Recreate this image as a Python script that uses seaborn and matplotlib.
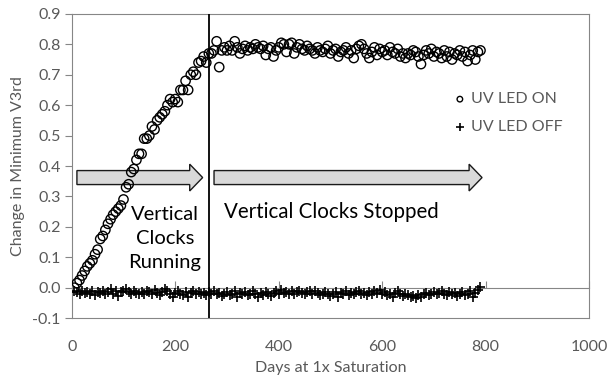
"""UV LED on/off: change in minimum V3rd vs days at 1x saturation."""

import matplotlib

matplotlib.use("Agg")
import matplotlib.pyplot as plt
import matplotlib.patches as mpatches
import numpy as np
import pandas as pd
import seaborn as sns

# sampling days (every 5 days)
DAYS = [
    5, 10, 15, 20, 25, 30, 35, 40, 45, 50,
    55, 60, 65, 70, 75, 80, 85, 90, 95, 100,
    105, 110, 115, 120, 125, 130, 135, 140, 145, 150,
    155, 160, 165, 170, 175, 180, 185, 190, 195, 200,
    205, 210, 215, 220, 225, 230, 235, 240, 245, 250,
    255, 260, 265, 270, 275, 280, 285, 290, 295, 300,
    305, 310, 315, 320, 325, 330, 335, 340, 345, 350,
    355, 360, 365, 370, 375, 380, 385, 390, 395, 400,
    405, 410, 415, 420, 425, 430, 435, 440, 445, 450,
    455, 460, 465, 470, 475, 480, 485, 490, 495, 500,
    505, 510, 515, 520, 525, 530, 535, 540, 545, 550,
    555, 560, 565, 570, 575, 580, 585, 590, 595, 600,
    605, 610, 615, 620, 625, 630, 635, 640, 645, 650,
    655, 660, 665, 670, 675, 680, 685, 690, 695, 700,
    705, 710, 715, 720, 725, 730, 735, 740, 745, 750,
    755, 760, 765, 770, 775, 780, 785, 790,
]

UV_ON = [
    0.00, 0.015, 0.025, 0.04, 0.055, 0.07, 0.08, 0.09, 0.11, 0.125,
    0.16, 0.17, 0.19, 0.21, 0.225, 0.24, 0.25, 0.26, 0.27, 0.29,
    0.33, 0.34, 0.38, 0.39, 0.42, 0.44, 0.44, 0.49, 0.49, 0.50,
    0.53, 0.52, 0.55, 0.56, 0.57, 0.58, 0.60, 0.62, 0.61, 0.62,
    0.61, 0.65, 0.65, 0.68, 0.65, 0.70, 0.71, 0.70, 0.74, 0.745,
    0.76, 0.74, 0.77, 0.77, 0.78, 0.81, 0.725, 0.78, 0.79, 0.78,
    0.795, 0.78, 0.81, 0.79, 0.77, 0.785, 0.795, 0.78, 0.79, 0.785,
    0.80, 0.79, 0.785, 0.795, 0.765, 0.785, 0.79, 0.76, 0.78, 0.79,
    0.805, 0.80, 0.775, 0.80, 0.805, 0.77, 0.79, 0.80, 0.785, 0.78,
    0.795, 0.785, 0.78, 0.77, 0.79, 0.78, 0.775, 0.785, 0.795, 0.77,
    0.78, 0.785, 0.76, 0.775, 0.78, 0.79, 0.77, 0.78, 0.755, 0.785,
    0.795, 0.80, 0.785, 0.77, 0.755, 0.775, 0.79, 0.765, 0.785, 0.775,
    0.78, 0.765, 0.79, 0.775, 0.77, 0.785, 0.76, 0.77, 0.755, 0.77,
    0.765, 0.78, 0.775, 0.76, 0.735, 0.765, 0.78, 0.77, 0.785, 0.76,
    0.775, 0.77, 0.755, 0.78, 0.76, 0.775, 0.75, 0.77, 0.765, 0.78,
    0.76, 0.775, 0.745, 0.765, 0.78, 0.75, 0.775, 0.78,
]

UV_OFF = [
    -0.01, -0.015, -0.02, -0.012, -0.018, -0.015, -0.02, -0.01, -0.025, -0.015,
    -0.018, -0.01, -0.022, -0.015, -0.005, -0.02, -0.012, -0.028, -0.015, -0.01,
    -0.005, -0.015, -0.02, -0.012, -0.018, -0.022, -0.015, -0.02, -0.01, -0.015,
    -0.02, -0.008, -0.018, -0.025, -0.015, -0.005, -0.012, -0.02, -0.03, -0.018,
    -0.012, -0.02, -0.025, -0.015, -0.032, -0.018, -0.012, -0.02, -0.015, -0.022,
    -0.018, -0.025, -0.015, -0.02, -0.012, -0.022, -0.018, -0.028, -0.02, -0.015,
    -0.025, -0.02, -0.012, -0.03, -0.018, -0.022, -0.015, -0.025, -0.02, -0.012,
    -0.022, -0.03, -0.018, -0.025, -0.015, -0.02, -0.028, -0.018, -0.012, -0.02,
    -0.008, -0.018, -0.015, -0.022, -0.012, -0.02, -0.015, -0.01, -0.018, -0.022,
    -0.015, -0.012, -0.02, -0.01, -0.018, -0.025, -0.02, -0.015, -0.022, -0.028,
    -0.02, -0.015, -0.03, -0.018, -0.022, -0.012, -0.025, -0.018, -0.02, -0.015,
    -0.01, -0.022, -0.018, -0.025, -0.015, -0.02, -0.012, -0.018, -0.008, -0.022,
    -0.015, -0.025, -0.02, -0.03, -0.018, -0.012, -0.022, -0.028, -0.02, -0.025,
    -0.032, -0.028, -0.035, -0.025, -0.03, -0.022, -0.018, -0.025, -0.02, -0.015,
    -0.022, -0.018, -0.012, -0.02, -0.025, -0.015, -0.022, -0.018, -0.028, -0.02,
    -0.015, -0.025, -0.02, -0.012, -0.03, -0.018, -0.008, 0.002,
]

X_TICKS = [0, 200, 400, 600, 800, 1000]
Y_TICKS = [-0.1, 0.0, 0.1, 0.2, 0.3, 0.4, 0.5, 0.6, 0.7, 0.8, 0.9]
CLOCK_STOP_DAY = 265

GRAY = "#868686"
TEXT_GRAY = "#595959"


def main() -> None:
    sns.set_theme(style="white")
    plt.rcParams["font.family"] = ["Lato", "DejaVu Sans"]

    df = pd.DataFrame({"day": DAYS, "on": UV_ON, "off": UV_OFF})

    fig = plt.figure(figsize=(6.08, 3.76), dpi=100)
    ax = fig.add_axes([0.118, 0.154, 0.851, 0.809])

    # block arrows (behind the data)
    for x0, x1 in [(10, 253), (275, 793)]:
        arr = mpatches.FancyArrow(
            x0, 0.362, x1 - x0, 0,
            width=0.046, head_width=0.088, head_length=25,
            length_includes_head=True,
            facecolor="#d9d9d9", edgecolor="#1a1a1a", linewidth=1.0, zorder=1,
        )
        ax.add_patch(arr)

    sns.scatterplot(
        data=df, x="day", y="off", marker="+", s=55, color="black",
        linewidth=1.2, ax=ax, zorder=3, label="UV LED OFF",
    )
    sns.scatterplot(
        data=df, x="day", y="on", marker="o", s=45, facecolor="none",
        edgecolor="black", linewidth=1.0, ax=ax, zorder=4, label="UV LED ON",
    )

    ax.axvline(CLOCK_STOP_DAY, color="black", linewidth=1.3, zorder=5)

    ax.text(180, 0.162, "Vertical\nClocks\nRunning", ha="center", va="center",
            fontsize=14.5, color="black", linespacing=1.5, zorder=6)
    ax.text(294, 0.25, "Vertical Clocks Stopped", ha="left", va="center",
            fontsize=14.8, color="black", zorder=6)

    ax.set_xlim(0, 1000)
    ax.set_ylim(-0.1, 0.9)
    ax.set_xticks(X_TICKS)
    ax.set_xticklabels([str(v) for v in X_TICKS])
    ax.set_yticks(Y_TICKS)
    ax.set_yticklabels([f"{v:.1f}" for v in Y_TICKS])
    ax.tick_params(axis="x", length=0, pad=16, labelsize=11.5, labelcolor=TEXT_GRAY)
    ax.tick_params(axis="y", direction="out", length=5, width=0.8, color=GRAY,
                   pad=3, labelsize=11.5, labelcolor=TEXT_GRAY, left=True)
    for sp in ax.spines.values():
        sp.set_color(GRAY)
        sp.set_linewidth(0.8)

    # zero line with upward ticks
    zero = ax.secondary_xaxis(0.1)
    zero.set_xticks(X_TICKS)
    zero.tick_params(direction="in", length=5, width=0.8, color=GRAY, labelbottom=False)
    zero.spines["bottom"].set_color(GRAY)
    zero.spines["bottom"].set_linewidth(0.8)

    ax.set_xlabel("Days at 1x Saturation", fontsize=11.5, color=TEXT_GRAY, labelpad=5)
    ax.set_ylabel("Change in Minimum V3rd", fontsize=11.5, color=TEXT_GRAY, labelpad=5)

    handles, labels = ax.get_legend_handles_labels()
    leg = ax.legend(
        handles[::-1], labels[::-1], loc="upper left", bbox_to_anchor=(0.71, 0.79),
        frameon=False, handlelength=0.8, handletextpad=0.3,
        labelspacing=0.85, fontsize=11.5, labelcolor=TEXT_GRAY,
    )
    leg.legend_handles[0].set_sizes([16])
    leg.legend_handles[1].set_sizes([30])

    fig.savefig("out.png", dpi=100)
    plt.close(fig)


if __name__ == "__main__":
    main()
